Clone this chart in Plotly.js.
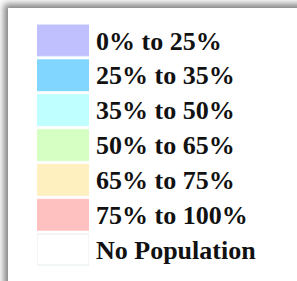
<!DOCTYPE html>
<html>
<head>
<meta charset="utf-8">
<script src="https://cdn.plot.ly/plotly-3.0.1.min.js"></script>
<style>
  html, body { margin: 0; padding: 0; background: #ffffff; width: 297px; height: 281px; overflow: hidden; }
  #frame { position: absolute; left: 8px; top: 8px; width: 300px; height: 290px; background: #ffffff;
           box-shadow: -3px -3px 7px 1px rgba(0,0,0,0.5); }
  #chart { position: absolute; left: 0; top: 0; width: 297px; height: 281px; }
</style>
</head>
<body>
<div id="frame"></div>
<div id="chart"></div>
<script>
const categories = ["0% to 25%", "25% to 35%", "35% to 50%", "50% to 65%", "65% to 75%", "75% to 100%", "No Population"];
const swatchValues = [1, 1, 1, 1, 1, 1, 1];
const swatchColors = ["#c0c0ff", "#80d6ff", "#c0ffff", "#d6ffc4", "#fff0c0", "#ffc0c0", "#ffffff"];
const swatchBorders = ["#c0c0ff", "#80d6ff", "#c0ffff", "#d6ffc4", "#fff0c0", "#ffc0c0", "#e6ecec"];

const trace = {
  type: "bar",
  orientation: "h",
  x: swatchValues,
  y: categories,
  width: 0.885,
  marker: { color: swatchColors, line: { color: swatchBorders, width: 1 } },
  hoverinfo: "skip",
  showlegend: false
};

const layout = {
  width: 297,
  height: 281,
  margin: { l: 37, r: 208, t: 23, b: 14, pad: 0 },
  paper_bgcolor: "rgba(0,0,0,0)",
  plot_bgcolor: "rgba(0,0,0,0)",
  xaxis: { range: [0, 1], visible: false, fixedrange: true },
  yaxis: {
    type: "category",
    autorange: "reversed",
    side: "right",
    showgrid: false,
    zeroline: false,
    showline: false,
    ticks: "",
    ticklabelstandoff: 6,
    tickfont: { family: "Liberation Serif, serif", size: 26, color: "#111111", weight: "bold" }
  },
  bargap: 0
};

Plotly.newPlot("chart", [trace], layout, { displayModeBar: false, staticPlot: true });
</script>
</body>
</html>
